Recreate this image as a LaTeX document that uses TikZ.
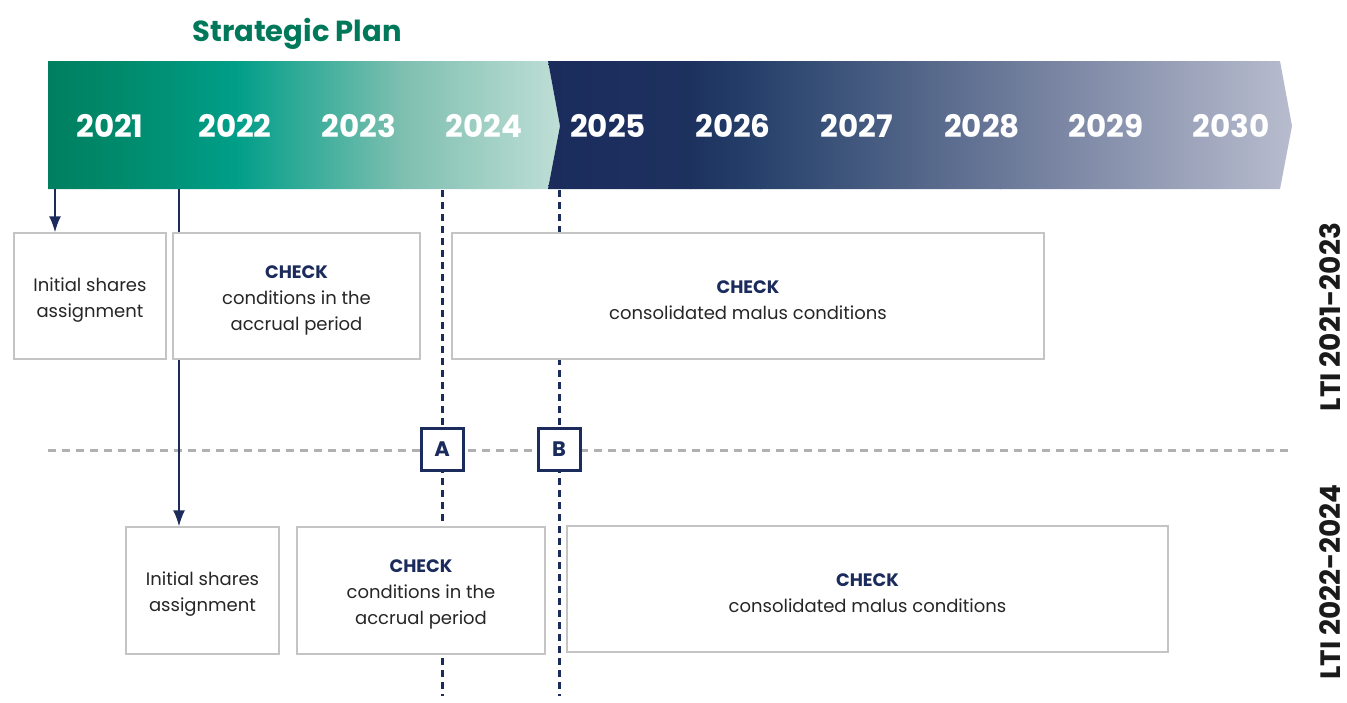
\documentclass[tikz,border=0pt]{standalone}
\usepackage{fontspec}
\setmainfont{Poppins}
\usetikzlibrary{arrows.meta}
\definecolor{navy}{HTML}{1B2C5C}
\definecolor{titlegreen}{HTML}{00785A}
\definecolor{gA}{HTML}{007F5F}
\definecolor{gB}{HTML}{008C6E}
\definecolor{gC}{HTML}{009E88}
\definecolor{gD}{HTML}{7DBFB0}
\definecolor{gE}{HTML}{BFDED6}
\definecolor{nA}{HTML}{1B2C5C}
\definecolor{nB}{HTML}{1D315F}
\definecolor{nC}{HTML}{27426C}
\definecolor{nD}{HTML}{6A7898}
\definecolor{nE}{HTML}{B8BCCE}
\definecolor{boxgrey}{HTML}{C4C4C4}
\definecolor{sepgrey}{HTML}{B0B0B0}
\definecolor{labelblack}{HTML}{1A1A1A}
\tikzset{
  infobox/.style={draw=boxgrey, line width=1.5pt, fill=white, align=center, inner sep=0pt,
    font=\fontsize{18}{26}\selectfont, text=black!85},
  yeartext/.style={text=white, font=\bfseries\fontsize{31}{34}\selectfont},
  markbox/.style={draw=navy, line width=3pt, fill=white, minimum size=42pt, inner sep=0pt,
    text=navy, font=\bfseries\fontsize{21}{24}\selectfont},
  navydash/.style={draw=navy, line width=3pt, dash pattern=on 7pt off 5pt},
  sepdash/.style={draw=sepgrey, line width=3pt, dash pattern=on 8pt off 6pt},
  navyarrow/.style={draw=navy, line width=1.5pt, -{Latex[length=16pt,width=12pt]}},
  sidelabel/.style={rotate=90, inner sep=0pt, text=labelblack, font=\bfseries\fontsize{28}{30}\selectfont},
}
\newcommand{\chk}{{\bfseries\color{navy}CHECK}}
\newcommand{\tstrut}{\rule{0pt}{21pt}}
\begin{document}
\begin{tikzpicture}[x=1pt,y=-1pt]
\useasboundingbox (0,0) rectangle (1347,702);
% title
\node[text=titlegreen, font=\bfseries\fontsize{29}{32}\selectfont] (title) at (297,34) {Strategic Plan};
% green band
\begin{scope}
  \clip (48,61) -- (548,61) -- (560,126) -- (548,189) -- (48,189) -- cycle;
  \shade[left color=gA, right color=gB] (47,60) rectangle (131,190);
  \shade[left color=gB, right color=gC] (130,60) rectangle (236,190);
  \shade[left color=gC, right color=gD] (235,60) rectangle (401,190);
  \shade[left color=gD, right color=gE] (400,60) rectangle (561,190);
\end{scope}
% navy band
\begin{scope}
  \clip (548,61) -- (1280,61) -- (1292,126) -- (1280,189) -- (548,189) -- (560,126) -- cycle;
  \shade[left color=nA, right color=nB] (547,60) rectangle (691,190);
  \shade[left color=nB, right color=nC] (690,60) rectangle (761,190);
  \shade[left color=nC, right color=nD] (760,60) rectangle (1001,190);
  \shade[left color=nD, right color=nE] (1000,60) rectangle (1293,190);
\end{scope}
% years
\node[yeartext] (y2021) at (110,126) {2021};
\node[yeartext] (y2022) at (235,126) {2022};
\node[yeartext] (y2023) at (359,126) {2023};
\node[yeartext] (y2024) at (484,126) {2024};
\node[yeartext] (y2025) at (608,126) {2025};
\node[yeartext] (y2026) at (733,126) {2026};
\node[yeartext] (y2027) at (857,126) {2027};
\node[yeartext] (y2028) at (982,126) {2028};
\node[yeartext] (y2029) at (1106,126) {2029};
\node[yeartext] (y2030) at (1231,126) {2030};
% separator
\coordinate (sepL) at (48,450);
\coordinate (sepR) at (1293,450);
\draw[sepdash] (sepL) -- (sepR);
% dashed verticals
\coordinate (dAtop) at (442,190);
\coordinate (dAbot) at (442,696);
\coordinate (dBtop) at (559,190);
\coordinate (dBbot) at (559,696);
\draw[navydash] (dAtop) -- (dAbot);
\draw[navydash] (dBtop) -- (dBbot);
% boxes row 2
\node[infobox, minimum width=153pt, minimum height=127pt] (b4) at (202.5,590.5) {\tstrut Initial shares\\assignment};
\node[infobox, minimum width=248pt, minimum height=127pt] (b5) at (421,590.5) {\tstrut\chk\\conditions in the\\accrual period};
\node[infobox, minimum width=601pt, minimum height=126pt] (b6) at (867.5,589) {\tstrut\chk\\consolidated malus conditions};
% long arrow (passes behind box b2)
\coordinate (a2) at (179,189);
\draw[navyarrow] (a2) -- (a2 |- b4.north);
% boxes row 1
\node[infobox, minimum width=152pt, minimum height=126pt] (b1) at (90,296) {\tstrut Initial shares\\assignment};
\node[infobox, minimum width=247pt, minimum height=126pt] (b2) at (296.5,296) {\tstrut\chk\\conditions in the\\accrual period};
\node[infobox, minimum width=592pt, minimum height=126pt] (b3) at (748,296) {\tstrut\chk\\consolidated malus conditions};
% short arrow
\coordinate (a1) at (55,189);
\draw[navyarrow] (a1) -- (a1 |- b1.north);
% markers
\node[markbox] (mA) at (442,449) {A};
\node[markbox] (mB) at (559,449) {B};
% side labels
\node[sidelabel] (lti1) at (1330,317) {LTI 2021-2023};
\node[sidelabel] (lti2) at (1330,582) {LTI 2022-2024};
\end{tikzpicture}
\end{document}
